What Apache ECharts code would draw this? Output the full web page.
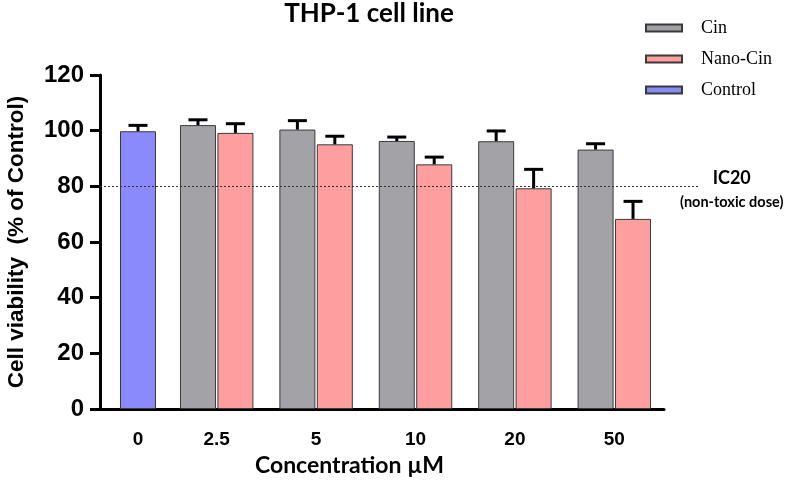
<!DOCTYPE html>
<html>
<head>
<meta charset="utf-8">
<script src="https://cdn.jsdelivr.net/npm/echarts@6/dist/echarts.min.js"></script>
<style>html,body{margin:0;padding:0;background:#fff}#c{width:786px;height:482px}</style>
</head>
<body>
<div id="c"></div>
<script>
const controlCategory = ['0'];
const categories = ['2.5', '5', '10', '20', '50'];
const controlValues = [99.8];
const controlErrors = [2.1];
const cinValues = [102.0, 100.4, 96.3, 96.2, 93.2];
const cinErrors = [1.9, 3.2, 1.4, 3.7, 2.1];
const nanoValues = [99.2, 95.1, 87.9, 79.3, 68.3];
const nanoErrors = [3.3, 2.9, 2.6, 6.8, 6.3];
const ic20Value = 80;
const yMin = 0, yMax = 120, yInterval = 20;

const SANS = '"Liberation Sans", Arial, sans-serif';
const BAR_W = 36;
const GAP_PCT = 4;
const halfStep = (BAR_W + BAR_W * GAP_PCT / 100) / 2;

function errRenderer(dx) {
  return function (params, api) {
    const i = api.value(0), v = api.value(1), e = api.value(2);
    const base = api.coord([i, v]);
    const top = api.coord([i, v + e]);
    const x = base[0] + dx;
    const cap = 9.5;
    const st = { stroke: '#000', lineWidth: 3 };
    return {
      type: 'group',
      children: [
        { type: 'line', shape: { x1: x, y1: base[1], x2: x, y2: top[1] }, style: st },
        { type: 'line', shape: { x1: x - cap, y1: top[1], x2: x + cap, y2: top[1] }, style: st }
      ]
    };
  };
}

const grids = [
  { left: 100, width: 76, top: 75, bottom: 73 },
  { left: 167, width: 497, top: 75, bottom: 73 },
  { left: 100, width: 599, top: 75, bottom: 73 }
];

function catAxis(idx, data) {
  return {
    gridIndex: idx, type: 'category', data: data,
    axisLine: { lineStyle: { color: '#000', width: 3 } },
    axisTick: { alignWithLabel: true, length: 12, lineStyle: { color: '#000', width: 3 } },
    axisLabel: { color: '#000', fontFamily: SANS, fontWeight: 'bold', fontSize: 19, margin: 21 }
  };
}

const option = {
  animation: false,
  backgroundColor: '#fff',
  title: {
    text: 'THP-1 cell line', left: 369, textAlign: 'center', top: 1, padding: 0,
    textStyle: { fontFamily: 'Lato', fontWeight: 'bold', fontSize: 26, color: '#000' }
  },
  legend: {
    data: ['Cin', 'Nano-Cin', 'Control'],
    orient: 'vertical', left: 645, top: 18, padding: 0,
    itemWidth: 36, itemHeight: 7, itemGap: 11,
    icon: 'rect',
    textStyle: { fontFamily: '"Liberation Serif", serif', fontSize: 18, color: '#000', lineHeight: 20, padding: [0, 0, 0, 14] }
  },
  grid: grids,
  xAxis: [
    catAxis(0, controlCategory),
    catAxis(1, categories),
    {
      gridIndex: 2, type: 'value', min: 0, max: 1,
      axisLine: { show: false }, axisTick: { show: false }, axisLabel: { show: false }, splitLine: { show: false },
      name: 'Concentration µM', nameLocation: 'middle', nameGap: 45,
      nameTextStyle: { fontFamily: 'Lato', fontWeight: 'bold', fontSize: 23, color: '#000', padding: [0, 100, 0, 0] }
    }
  ],
  yAxis: [
    {
      gridIndex: 0, type: 'value', min: yMin, max: yMax, interval: yInterval,
      axisLine: { show: true, lineStyle: { color: '#000', width: 3 } },
      axisTick: { show: true, length: 10, lineStyle: { color: '#000', width: 3 } },
      axisLabel: { color: '#000', fontFamily: SANS, fontWeight: 'bold', fontSize: 24, margin: 16 },
      splitLine: { show: false },
      name: 'Cell viability  (% of Control)', nameLocation: 'middle', nameRotate: 90, nameGap: 72,
      nameTextStyle: { fontFamily: SANS, fontWeight: 'bold', fontSize: 22.5, color: '#000' }
    },
    { gridIndex: 1, type: 'value', min: yMin, max: yMax, interval: yInterval, show: false, splitLine: { show: false } },
    { gridIndex: 2, type: 'value', min: yMin, max: yMax, interval: yInterval, show: false, splitLine: { show: false } }
  ],
  series: [
    {
      name: 'Control', type: 'bar', xAxisIndex: 0, yAxisIndex: 0, barWidth: BAR_W,
      data: controlValues,
      itemStyle: { color: '#8a8afd', borderColor: '#3a3a3a', borderWidth: 1 }
    },
    {
      name: 'Cin', type: 'bar', xAxisIndex: 1, yAxisIndex: 1, barWidth: BAR_W, barGap: GAP_PCT + '%',
      data: cinValues,
      itemStyle: { color: '#a3a2a7', borderColor: '#3a3a3a', borderWidth: 1 }
    },
    {
      name: 'Nano-Cin', type: 'bar', xAxisIndex: 1, yAxisIndex: 1, barWidth: BAR_W, barGap: GAP_PCT + '%',
      data: nanoValues,
      itemStyle: { color: '#fe9e9e', borderColor: '#3a3a3a', borderWidth: 1 }
    },
    {
      name: 'errControl', type: 'custom', xAxisIndex: 0, yAxisIndex: 0, z: 5,
      renderItem: errRenderer(0),
      data: controlValues.map((v, i) => [i, v, controlErrors[i]])
    },
    {
      name: 'errCin', type: 'custom', xAxisIndex: 1, yAxisIndex: 1, z: 5,
      renderItem: errRenderer(-halfStep),
      data: cinValues.map((v, i) => [i, v, cinErrors[i]])
    },
    {
      name: 'errNano', type: 'custom', xAxisIndex: 1, yAxisIndex: 1, z: 5,
      renderItem: errRenderer(halfStep),
      data: nanoValues.map((v, i) => [i, v, nanoErrors[i]])
    },
    {
      name: 'ic20', type: 'line', xAxisIndex: 2, yAxisIndex: 2, data: [], z: 4,
      markLine: {
        silent: true, symbol: 'none',
        lineStyle: { color: '#333', width: 1, type: [2, 2] },
        data: [{ yAxis: ic20Value }],
        label: {
          show: true, position: 'end', distance: 0, offset: [-19, 3],
          formatter: '{a|IC20}\n{b|(non-toxic dose)}',
          rich: {
            a: { fontFamily: 'Lato', fontWeight: 'bold', fontSize: 18, color: '#000', align: 'center', lineHeight: 26 },
            b: { fontFamily: 'Lato', fontWeight: 'bold', fontSize: 14.5, color: '#000', align: 'center', lineHeight: 22 }
          }
        }
      }
    }
  ]
};

const chart = echarts.init(document.getElementById('c'), null, { renderer: 'canvas' });
chart.setOption(option);
</script>
</body>
</html>
